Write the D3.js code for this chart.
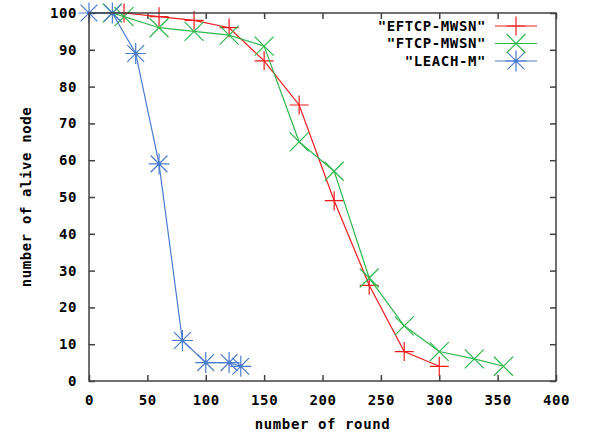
<!DOCTYPE html>
<html>
<head>
<meta charset="utf-8">
<script src="https://cdn.jsdelivr.net/npm/d3@7"></script>
<style>
  body { margin: 0; background: #fff; }
  text { font-family: "DejaVu Sans Mono", monospace; font-weight: bold; font-size: 14px; letter-spacing: 0.6px; fill: #000; }
</style>
</head>
<body>
<div id="chart"></div>
<script>
// data
let eftcpRound = [30, 60, 90, 120, 150, 180, 210, 240, 270, 300];
let eftcpAlive = [100, 99, 98, 96, 87, 75, 49, 26, 8, 4];
let ftcpRound = [20, 30, 60, 90, 120, 150, 180, 210, 240, 270, 300, 330, 355];
let ftcpAlive = [100, 99, 96, 95, 94, 91, 65, 57, 28, 15, 8, 6, 4];
let leachRound = [0, 20, 40, 60, 80, 100, 120, 130];
let leachAlive = [100, 100, 89, 59, 11, 5, 5, 4];

let xTicks = [0, 50, 100, 150, 200, 250, 300, 350, 400];
let yTicks = [0, 10, 20, 30, 40, 50, 60, 70, 80, 90, 100];

let seriesNames = ['"EFTCP-MWSN"', '"FTCP-MWSN"', '"LEACH-M"'];
let seriesColors = ["#f01c1c", "#2fb84c", "#4a7ccf"];
let seriesMarks = ["plus", "cross", "star"];

let series = [
    {name: seriesNames[0], color: seriesColors[0], mark: seriesMarks[0], values: eftcpRound.map((r, i) => ({x: r, y: eftcpAlive[i]}))},
    {name: seriesNames[1], color: seriesColors[1], mark: seriesMarks[1], values: ftcpRound.map((r, i) => ({x: r, y: ftcpAlive[i]}))},
    {name: seriesNames[2], color: seriesColors[2], mark: seriesMarks[2], values: leachRound.map((r, i) => ({x: r, y: leachAlive[i]}))}
];

let W = 594, H = 435;
let margin = {top: 13, right: 38, bottom: 54, left: 89};
let width = W - margin.left - margin.right;
let height = H - margin.top - margin.bottom;

let svg = d3.select("#chart").append("svg")
    .attr("width", W)
    .attr("height", H);

let g = svg.append("g")
    .attr("transform", `translate(${margin.left},${margin.top})`);

let x = d3.scaleLinear().domain([0, 400]).range([0, width]);
let y = d3.scaleLinear().domain([0, 100]).range([height, 0]);

let axisColor = "#404040";

// axes with inward ticks (mirrored on top / right)
let xAxis = d3.axisBottom(x).tickValues(xTicks).tickSizeInner(-6).tickSizeOuter(0).tickPadding(14);
let yAxis = d3.axisLeft(y).tickValues(yTicks).tickSizeInner(-6).tickSizeOuter(0).tickPadding(12);
let xTop = d3.axisTop(x).tickValues(xTicks).tickSizeInner(-6).tickSizeOuter(0).tickFormat("");
let yRight = d3.axisRight(y).tickValues(yTicks).tickSizeInner(-6).tickSizeOuter(0).tickFormat("");

g.append("g").attr("transform", `translate(0,${height})`).call(xAxis);
g.append("g").call(yAxis);
g.append("g").call(xTop);
g.append("g").attr("transform", `translate(${width},0)`).call(yRight);

g.selectAll(".domain").remove();
g.selectAll(".tick line").attr("stroke", axisColor).attr("stroke-width", 1.5);
g.selectAll(".tick text").style("font-size", "14px");

// point markers, gnuplot style
function markPath(type, s) {
    let p = "";
    if (type === "plus" || type === "star") {
        p += `M${-s},0H${s}M0,${-s}V${s}`;
    }
    if (type === "cross" || type === "star") {
        let d = type === "star" ? s * 0.8 : s;
        p += `M${-d},${-d}L${d},${d}M${-d},${d}L${d},${-d}`;
    }
    return p;
}

let line = d3.line().x(d => x(d.x)).y(d => y(d.y));

series.forEach(s => {
    let sg = g.append("g");
    sg.append("path")
        .datum(s.values)
        .attr("d", line)
        .attr("fill", "none")
        .attr("stroke", s.color)
        .attr("stroke-width", 1.2);
    sg.selectAll("path.mark")
        .data(s.values)
        .enter().append("path")
        .attr("class", "mark")
        .attr("transform", d => `translate(${x(d.x)},${y(d.y)})`)
        .attr("d", markPath(s.mark, s.mark === "star" ? 10.5 : 9.5))
        .attr("fill", "none")
        .attr("stroke", s.color)
        .attr("stroke-width", 1.2);
    if (s.mark === "star") {
        sg.selectAll("circle")
            .data(s.values)
            .enter().append("circle")
            .attr("cx", d => x(d.x))
            .attr("cy", d => y(d.y))
            .attr("r", 2)
            .attr("fill", s.color);
    }
});

// border
g.append("rect")
    .attr("width", width)
    .attr("height", height)
    .attr("fill", "none")
    .attr("stroke", axisColor)
    .attr("stroke-width", 1.5);

// legend (no box)
let legend = g.append("g").attr("transform", `translate(${397 - margin.left},0)`);
series.forEach((s, i) => {
    let ly = 13 + i * 17.5;
    legend.append("text")
        .attr("x", 486 - 397)
        .attr("y", ly)
        .attr("dy", "0.35em")
        .attr("text-anchor", "end")
        .text(s.name);
    legend.append("line")
        .attr("x1", 495 - 397).attr("x2", 537 - 397)
        .attr("y1", ly).attr("y2", ly)
        .attr("stroke", s.color)
        .attr("stroke-width", 1.2);
    legend.append("path")
        .attr("transform", `translate(${516 - 397},${ly})`)
        .attr("d", markPath(s.mark, s.mark === "star" ? 10.5 : 9.5))
        .attr("fill", "none")
        .attr("stroke", s.color)
        .attr("stroke-width", 1.2);
    if (s.mark === "star") {
        legend.append("circle").attr("cx", 516 - 397).attr("cy", ly).attr("r", 2).attr("fill", s.color);
    }
});

// axis titles
svg.append("text")
    .attr("x", margin.left + width / 2)
    .attr("y", 424)
    .attr("dy", "0.35em")
    .attr("text-anchor", "middle")
    .text("number of round");

svg.append("text")
    .attr("transform", `translate(26,${margin.top + height / 2}) rotate(-90)`)
    .attr("dy", "0.35em")
    .attr("text-anchor", "middle")
    .text("number of alive node");
</script>
</body>
</html>
